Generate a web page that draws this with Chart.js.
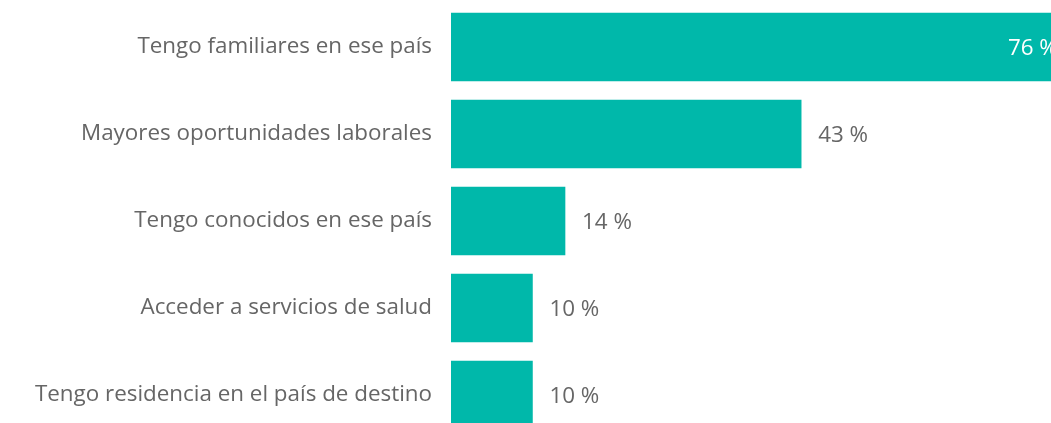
<!DOCTYPE html>
<html>
<head>
<meta charset="utf-8">
<script src="https://cdn.jsdelivr.net/npm/chart.js@4"></script>
<style>
  html, body { margin: 0; padding: 0; background: #fff; overflow: hidden; }
  #wrap { width: 1051px; height: 423px; overflow: hidden; position: relative; }
  #box { width: 1100px; height: 442px; }
</style>
</head>
<body>
<div id="wrap"><div id="box"><canvas id="myChart"></canvas></div></div>
<script>
const categories = [
  'Tengo familiares en ese país',
  'Mayores oportunidades laborales',
  'Tengo conocidos en ese país',
  'Acceder a servicios de salud',
  'Tengo residencia en el país de destino'
]
const values = [76, 43, 14, 10, 10]

const barColor = '#00B8AA'
const textColor = '#666666'
const fontFamily = '"Open Sans", "Noto Sans", sans-serif'
const fontSize = 22.4

// value labels: outside the bar, except the longest one which sits inside in white
const valueLabels = {
  id: 'valueLabels',
  afterDatasetsDraw(chart) {
    const ctx = chart.ctx
    const meta = chart.getDatasetMeta(0)
    ctx.save()
    ctx.font = `${fontSize}px ${fontFamily}`
    ctx.textBaseline = 'middle'
    meta.data.forEach((bar, i) => {
      const text = values[i] + ' %'
      if (values[i] > 60) {
        ctx.fillStyle = '#ffffff'
        ctx.textAlign = 'right'
        ctx.fillText(text, bar.x - 12, bar.y + 2)
      } else {
        ctx.fillStyle = textColor
        ctx.textAlign = 'left'
        ctx.fillText(text, bar.x + 17, bar.y + 2)
      }
    })
    ctx.restore()
  }
}

var ctx = document.getElementById('myChart').getContext('2d');
var chart = new Chart(ctx, {
  type: 'bar',
  data: {
    labels: categories,
    datasets: [{
      data: values,
      backgroundColor: barColor,
      barThickness: 68
    }]
  },
  options: {
    indexAxis: 'y',
    responsive: true,
    maintainAspectRatio: false,
    animation: false,
    layout: { padding: { top: 3.5, bottom: 3.5, right: 0, left: 0 } },
    plugins: {
      legend: { display: false },
      tooltip: { enabled: false }
    },
    scales: {
      x: {
        min: 0,
        max: 79.7,
        display: false
      },
      y: {
        afterFit(scale) {
          scale.width = 451
          scale.paddingTop = 0
          scale.paddingBottom = 0
        },
        grid: { display: false, drawTicks: false },
        border: { display: false },
        ticks: {
          padding: 19,
          color: textColor,
          font: { family: fontFamily, size: fontSize }
        }
      }
    }
  },
  plugins: [valueLabels]
});
</script>
</body>
</html>
